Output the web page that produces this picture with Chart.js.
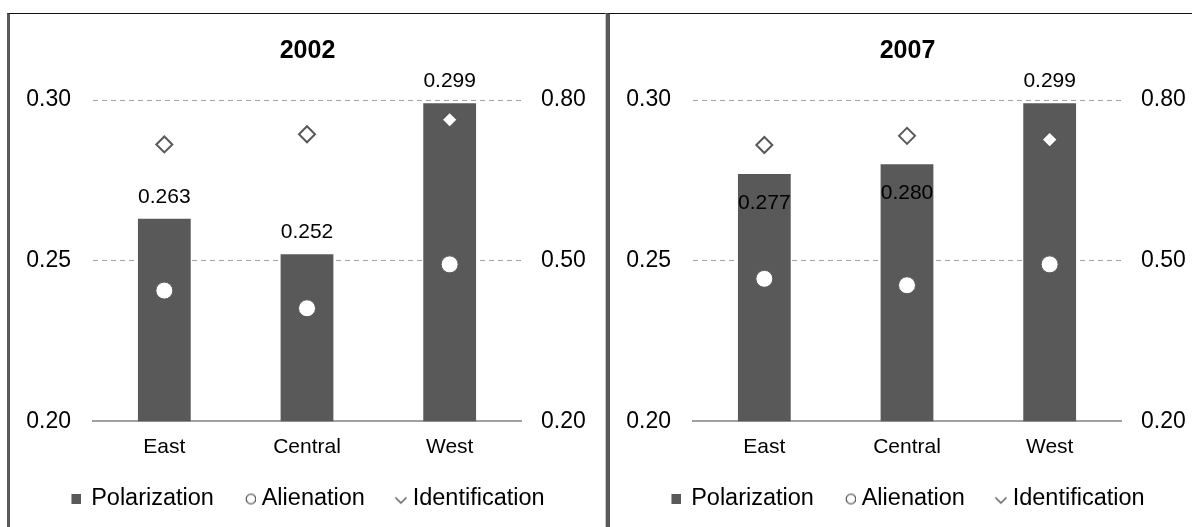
<!DOCTYPE html>
<html>
<head>
<meta charset="utf-8">
<script src="https://cdn.jsdelivr.net/npm/chart.js@4/dist/chart.umd.min.js"></script>
<style>
  html, body { margin: 0; padding: 0; background: #fff; overflow: hidden; width: 1192px; height: 527px; }
  .panel { position: absolute; top: 13px; height: 530px; border-top: 1px solid #111; }
  #p2002 { left: 7px; width: 595px; border-left: 3px solid #595959; border-right: 1px solid #c8c8c8; }
  #p2007 { left: 606px; width: 595px; border-left: 4px solid #595959; }
  .box { position: relative; width: 595px; height: 513px; }
</style>
</head>
<body>
<div class="panel" id="p2002"><div class="box"><canvas id="chart2002"></canvas></div></div>
<div class="panel" id="p2007"><div class="box"><canvas id="chart2007"></canvas></div></div>
<script>
const regions = ["East", "Central", "West"];
const seriesNames = ["Polarization", "Alienation", "Identification"];
const polarization2002 = [0.263, 0.252, 0.299];
const polarization2007 = [0.277, 0.280, 0.299];
const alienation2002 = [0.444, 0.411, 0.493];
const alienation2007 = [0.466, 0.454, 0.493];
const identification2002 = [0.717, 0.736, 0.763];
const identification2007 = [0.716, 0.733, 0.726];
const leftTicks = [0.20, 0.25, 0.30];
const rightTicks = [0.20, 0.50, 0.80];

const FONT = '"Liberation Sans", Arial, sans-serif';
const DARK = "#595959";

// little pictures for the legend markers
function legendMarker(kind) {
    const c = document.createElement("canvas");
    const g = c.getContext("2d");
    if (kind === "square") {
        c.width = 13; c.height = 10;
        g.fillStyle = DARK;
        g.fillRect(3, 0, 10, 10);
    } else if (kind === "circle") {
        c.width = 21; c.height = 13;
        g.fillStyle = "#fff";
        g.strokeStyle = DARK;
        g.lineWidth = 1.3;
        g.beginPath();
        g.arc(16, 6.5, 4.8, 0, Math.PI * 2);
        g.fill();
        g.stroke();
    } else {
        c.width = 21; c.height = 13;
        g.strokeStyle = DARK;
        g.lineWidth = 1.4;
        g.beginPath();
        g.moveTo(9.5, 5);
        g.lineTo(15, 10.5);
        g.lineTo(20.5, 5);
        g.stroke();
    }
    return c;
}
const markers = [legendMarker("square"), legendMarker("circle"), legendMarker("diamond")];

const valueLabels = {
    id: "valueLabels",
    afterDraw(chart, args, opts) {
        const meta = chart.getDatasetMeta(0);
        const ctx = chart.ctx;
        ctx.save();
        ctx.font = "21px " + FONT;
        ctx.fillStyle = "#000";
        ctx.textAlign = "center";
        ctx.textBaseline = "middle";
        meta.data.forEach((bar, i) => {
            const v = chart.data.datasets[0].data[i];
            const y = opts.inside[i] ? bar.y + 29 : bar.y - 22;
            ctx.fillText(v.toFixed(3), bar.x, y);
        });
        ctx.restore();
    }
};

function makeChart(canvasId, year, pol, ali, ide, inside) {
    return new Chart(document.getElementById(canvasId), {
        type: "bar",
        data: {
            labels: regions,
            datasets: [
                {
                    label: seriesNames[0],
                    data: pol,
                    backgroundColor: DARK,
                    borderWidth: 0,
                    barPercentage: 0.37,
                    categoryPercentage: 1,
                    yAxisID: "y",
                    order: 3
                },
                {
                    label: seriesNames[1],
                    type: "line",
                    data: ali,
                    showLine: false,
                    pointStyle: "circle",
                    pointRadius: 8.5,
                    pointBackgroundColor: "#fff",
                    pointBorderColor: DARK,
                    pointBorderWidth: 1,
                    yAxisID: "y2",
                    order: 2
                },
                {
                    label: seriesNames[2],
                    type: "line",
                    data: ide,
                    showLine: false,
                    pointStyle: "rectRot",
                    pointRadius: 8,
                    pointBackgroundColor: "#fff",
                    pointBorderColor: DARK,
                    pointBorderWidth: 2,
                    yAxisID: "y2",
                    order: 1
                }
            ]
        },
        options: {
            responsive: true,
            maintainAspectRatio: false,
            animation: false,
            events: [],
            layout: { padding: { top: 0, left: 0, right: 0, bottom: 6.25 } },
            scales: {
                x: {
                    afterFit: s => { s.height = 39; },
                    grid: { display: true, drawOnChartArea: false, drawTicks: false },
                    border: { display: true, color: "#a0a0a0", width: 2 },
                    ticks: { color: "#000", font: { family: FONT, size: 21 }, padding: 13.4 }
                },
                y: {
                    position: "left",
                    min: 0.2,
                    max: 0.3,
                    afterFit: s => { s.width = 83; },
                    afterBuildTicks: s => { s.ticks = leftTicks.map(v => ({ value: v })); },
                    grid: {
                        drawTicks: false,
                        color: c => (c.tick && c.tick.value > 0.201 ? "#a0a0a0" : "rgba(0,0,0,0)")
                    },
                    border: { display: false, dash: [5, 4] },
                    ticks: {
                        color: "#000",
                        font: { family: FONT, size: 23 },
                        padding: 22,
                        callback: v => Number(v).toFixed(2)
                    }
                },
                y2: {
                    position: "right",
                    min: 0.2,
                    max: 0.8,
                    afterFit: s => { s.width = 84; },
                    afterBuildTicks: s => { s.ticks = rightTicks.map(v => ({ value: v })); },
                    grid: { drawOnChartArea: false, drawTicks: false },
                    border: { display: false },
                    ticks: {
                        color: "#000",
                        font: { family: FONT, size: 23 },
                        padding: 20,
                        callback: v => Number(v).toFixed(2)
                    }
                }
            },
            plugins: {
                title: {
                    display: true,
                    text: year,
                    color: "#000",
                    font: { family: FONT, size: 25, weight: "bold" },
                    padding: { top: 22, bottom: 34 }
                },
                legend: {
                    position: "bottom",
                    labels: {
                        color: "#000",
                        font: { family: FONT, size: 23.5 },
                        usePointStyle: true,
                        pointStyleWidth: 9,
                        padding: 27,
                        sort: (a, b) => a.datasetIndex - b.datasetIndex,
                        generateLabels: chart => chart.data.datasets.map((ds, i) => ({
                            text: ds.label,
                            datasetIndex: i,
                            pointStyle: markers[i],
                            fontColor: "#000",
                            lineWidth: 0,
                            hidden: false
                        }))
                    }
                },
                tooltip: { enabled: false },
                valueLabels: { inside: inside }
            }
        },
        plugins: [valueLabels]
    });
}

makeChart("chart2002", "2002", polarization2002, alienation2002, identification2002, [false, false, false]);
makeChart("chart2007", "2007", polarization2007, alienation2007, identification2007, [true, true, false]);
</script>
</body>
</html>
